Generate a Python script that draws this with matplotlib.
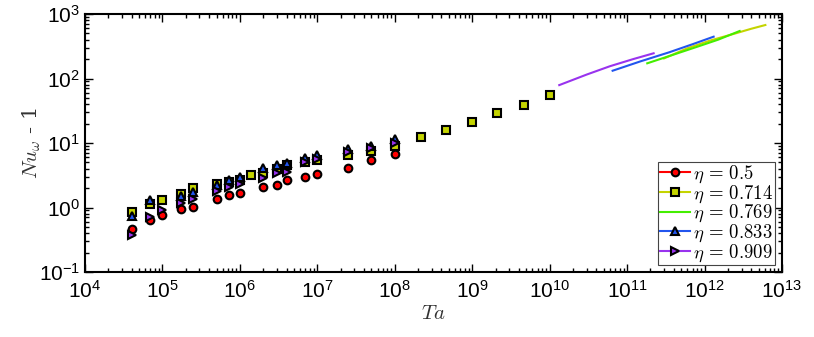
import numpy as np
from matplotlib import pyplot as plt

plt.rcParams['font.family'] = ['Liberation Sans', 'DejaVu Sans']
plt.rcParams['mathtext.fontset'] = 'cm'

# eta = 0.5 (circles)
ta_05 = [4e4, 7e4, 1e5, 1.74e5, 2.45e5, 5e5, 7.2e5, 1e6, 2e6, 3e6, 4e6, 7e6, 1e7, 2.5e7, 5e7, 1e8]
nu_05 = [0.46, 0.64, 0.77, 0.95, 1.03, 1.34, 1.56, 1.70, 2.08, 2.23, 2.64, 3.0, 3.3, 4.1, 5.45, 6.75]

# eta = 0.714 (squares, simulations up to 1e10)
ta_0714 = [4e4, 7e4, 1e5, 1.74e5, 2.45e5, 5e5, 7.2e5, 1e6, 1.4e6, 2e6, 3e6, 4e6, 7e6, 1e7, 2.5e7, 5e7, 1e8,
           2.15e8, 4.6e8, 1e9, 2.1e9, 4.7e9, 1e10]
nu_0714 = [0.85, 1.15, 1.31, 1.62, 1.98, 2.31, 2.51, 2.7, 3.23, 3.46, 3.9, 4.5, 5.1, 5.4, 6.6, 7.5, 9.1,
           12.3, 16.1, 21.2, 28.8, 38.4, 56]

# eta = 0.833 (up triangles)
ta_0833 = [4e4, 7e4, 1.74e5, 2.45e5, 5e5, 7.2e5, 1e6, 2e6, 3e6, 4e6, 7e6, 1e7, 2.5e7, 5e7, 1e8]
nu_0833 = [0.74, 1.31, 1.51, 1.76, 2.23, 2.67, 3.0, 4.05, 4.56, 4.95, 5.8, 6.45, 8.0, 9.1, 11.4]

# eta = 0.909 (right triangles)
ta_0909 = [4e4, 7e4, 1e5, 1.74e5, 2.45e5, 5e5, 7.2e5, 1e6, 2e6, 3e6, 4e6, 7e6, 1e7, 2.5e7, 5e7, 1e8]
nu_0909 = [0.37, 0.70, 0.91, 1.16, 1.34, 1.80, 2.1, 2.29, 2.83, 3.39, 3.59, 5.0, 5.6, 7.3, 8.45, 10.1]

# experiments (lines)
exp_ta_0714 = [3e11, 6e11, 1.2e12, 2.5e12, 4e12, 6.1e12]
exp_nu_0714 = [205, 294, 390, 500, 590, 675]
exp_ta_0769 = [1.82e11, 4e11, 8e11, 1.5e12, 2.84e12]
exp_nu_0769 = [172, 235, 310, 400, 545]
exp_ta_0833 = [6.5e10, 1.5e11, 3.5e11, 7e11, 1.31e12]
exp_nu_0833 = [132, 185, 255, 340, 445]
exp_ta_0909 = [1.33e10, 3e10, 6e10, 1.2e11, 2.2e11]
exp_nu_0909 = [79, 115, 155, 200, 246]

c_red = '#ff0000'
c_yel = '#c4d400'
c_grn = '#44ee00'
c_blu = '#2255ee'
c_pur = '#9933ee'

fig = plt.figure(figsize=(8.14, 3.37), dpi=100)
ax = fig.add_axes([85 / 814, 1 - 272 / 337, (782 - 85) / 814, (272 - 14) / 337])

mk = dict(linestyle='none', markeredgecolor='k', markeredgewidth=1.5, markersize=5.5)
ax.plot(ta_05, nu_05, marker='o', markerfacecolor=c_red, **mk)
ax.plot(ta_0714, nu_0714, marker='s', markerfacecolor=c_yel, **mk)
ax.plot(ta_0833, nu_0833, marker='^', markerfacecolor=c_blu, **mk)
ax.plot(ta_0909, nu_0909, marker='>', markerfacecolor=c_pur, **mk)

ax.plot(exp_ta_0714, exp_nu_0714, color=c_yel, lw=1.5)
ax.plot(exp_ta_0769, exp_nu_0769, color=c_grn, lw=1.5)
ax.plot(exp_ta_0833, exp_nu_0833, color=c_blu, lw=1.5)
ax.plot(exp_ta_0909, exp_nu_0909, color=c_pur, lw=1.5)

# legend proxies
lg = dict(markeredgecolor='k', markeredgewidth=1.5, markersize=5.5, lw=1.5)
h1, = ax.plot([], [], color=c_red, marker='o', markerfacecolor=c_red, **lg)
h2, = ax.plot([], [], color=c_yel, marker='s', markerfacecolor=c_yel, **lg)
h3, = ax.plot([], [], color=c_grn, lw=1.5)
h4, = ax.plot([], [], color=c_blu, marker='^', markerfacecolor=c_blu, **lg)
h5, = ax.plot([], [], color=c_pur, marker='>', markerfacecolor=c_pur, **lg)
leg = ax.legend([h1, h2, h3, h4, h5],
                [r'$\eta\,=\,0.5$', r'$\eta\,=\,0.714$', r'$\eta\,=\,0.769$',
                 r'$\eta\,=\,0.833$', r'$\eta\,=\,0.909$'],
                loc='lower right', fontsize=13.5, fancybox=False, framealpha=1,
                edgecolor='#444444', borderpad=0.1, labelspacing=-0.1,
                handlelength=1.6, handletextpad=0.2, borderaxespad=0.35)
leg.get_frame().set_linewidth(0.8)

ax.set_xscale('log')
ax.set_yscale('log')
ax.set_xlim(1e4, 1e13)
ax.set_ylim(1e-1, 1e3)
ax.set_xticks([10.0 ** k for k in range(4, 14)])
ax.set_yticks([10.0 ** k for k in range(-1, 4)])
ax.tick_params(which='both', direction='in', top=True, right=True, labelsize=15, width=1)
ax.tick_params(axis='x', pad=6)
ax.tick_params(which='major', length=6)
ax.tick_params(which='minor', length=3)
for s in ax.spines.values():
    s.set_linewidth(1.5)

ax.set_xlabel(r'$Ta$', fontsize=15, color='#333333', labelpad=1)
ax.set_ylabel(r'$Nu_\omega$ - 1', fontsize=15, color='#333333', family='DejaVu Serif', labelpad=-3)

fig.savefig('out.png', dpi=100)
